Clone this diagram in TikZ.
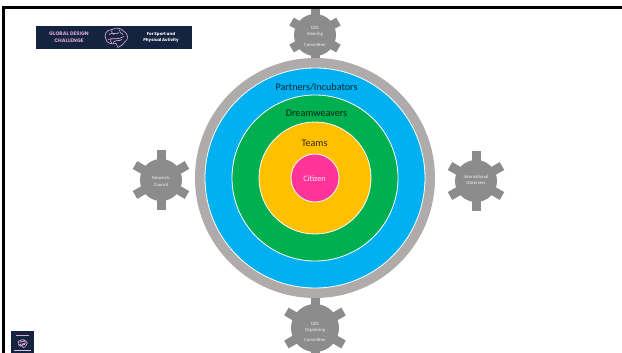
\documentclass[tikz,border=0pt]{standalone}
\usepackage{fontspec}
\setmainfont{Carlito}
\newfontfamily\logofont{Poppins}
\newcommand{\gearshape}[4]{% x y bodyradius toothradius
  \foreach \ang in {30,90,150,210,270,330}{
    \fill[gearbody,shift={(#1,#2)},rotate=\ang] (0,-4.5) rectangle (#4,4.5);
  }
  \fill[gearbody] (#1,#2) circle[radius=#3*0.75pt];
}
\newcommand{\brainshape}{%
  \draw[brainline] (-10,2) .. controls (-13,-3) and (-9,-8) .. (-4,-8) .. controls (0,-11) and (6,-9) .. (8,-6) .. controls (12,-4) and (13,2) .. (9,4) .. controls (7,8) and (3,9) .. (2,10) -- (0,6) .. controls (-4,7) and (-9,6) .. (-10,2);
  \draw[brainline] (-7,-3) .. controls (-3,-6) and (0,-2) .. (3,-5) (-8,2) .. controls (-3,0) and (2,3) .. (8,-1) (-3,5) .. controls (-1,2) and (4,4) .. (6,2) (-4,-8) .. controls (-5,-5) and (-3,-3) .. (-2,-3) (3,-8) .. controls (5,-6) and (4,-3) .. (7,-3) (-5,1) .. controls (-6,3) and (-5,5) .. (-4,6);
}
\begin{document}
\begin{tikzpicture}[x=0.75pt,y=-0.75pt,
  ring/.style={circle,draw=white,line width=0.6pt,inner sep=0pt,minimum size=#1*0.75pt},
  ringlabel/.style={font=\fontsize{7.6}{9}\selectfont,text=#1,inner sep=0pt},
  gearlabel/.style={font=\fontsize{3.5}{4.6}\selectfont,text=white!88!gray,align=center,inner sep=0pt},
  frameline/.style={line width=2pt,black},
  logobg/.style={fill=logonavy,draw=none,inner sep=0pt},
  logotext/.style={inner sep=0pt,align=center},
  brainline/.style={draw=logopink,line width=0.5pt}
]
\definecolor{ringgray}{HTML}{AFABAB}
\definecolor{gearbody}{HTML}{8C8C8C}
\definecolor{cblue}{HTML}{00B0F0}
\definecolor{cgreen}{HTML}{00B050}
\definecolor{cyellow}{HTML}{FFC000}
\definecolor{cpink}{HTML}{FF3399}
\definecolor{logonavy}{HTML}{14233F}
\definecolor{logopink}{HTML}{D9A6D0}
\useasboundingbox (0,0) rectangle (622,353);
\fill[white] (0,0) rectangle (622,353);
% gears
\gearshape{315}{35}{21}{27}
\gearshape{161}{180}{21}{30}
\gearshape{476}{181}{21}{30}
\gearshape{315}{328}{24}{33}
% frame
\coordinate (fa) at (3.5,353);
\coordinate (fb) at (3.5,7.5);
\coordinate (fc) at (622,7.5);
\draw[frameline] (fa) -- (fb) -- (fc);
% rings
\node[ring=240,fill=ringgray,draw=none] (outer) at (315,178) {};
\node[ring=220,fill=cblue] (partners) at (315,178) {};
\node[ring=166,fill=cgreen] (dream) at (315,178) {};
\node[ring=112,fill=cyellow] (teams) at (315,178) {};
\node[ring=48,fill=cpink] (citizen) at (315,178) {};
\node[ringlabel=black!80!cblue] (lp) at (316.5,87) {Partners/Incubators};
\node[ringlabel=black!80!cgreen] (ld) at (316.5,113) {Dreamweavers};
\node[ringlabel=black!80!cyellow] (lt) at (314.5,143) {Teams};
\node[font=\fontsize{6.2}{7}\selectfont,text=white!90!cpink,inner sep=0pt] (lc) at (314.5,179) {Citizen};
\node[gearlabel] (g1) at (315,36.5) {GDC\\Steering\\[3pt]Committee};
\node[gearlabel] (g2) at (161,181.5) {Research\\[1pt]Council};
\node[gearlabel] (g3) at (476,180) {International\\Observers};
\node[gearlabel] (g4) at (315,332) {GDC\\Organising\\[3pt]Committee};
% banner logo
\fill[logobg] (36,26) rectangle (192,49);
\node[logotext,font=\logofont\bfseries\fontsize{3.8}{5}\selectfont,text=logopink] (lg) at (69,37.5) {GLOBAL DESIGN\\CHALLENGE};
\node[logotext,font=\logofont\bfseries\fontsize{3.1}{5}\selectfont,text=white] (ls) at (161,37.5) {For Sport and\\Physical Activity};
\begin{scope}[shift={(116,37.5)}]
  \brainshape
\end{scope}
% small logo
\fill[logobg] (11,331) rectangle (34,353);
\begin{scope}[shift={(22.5,343.5)},scale=0.42]
  \brainshape
\end{scope}
\draw[logopink,line width=0.6pt] (16,335.5) -- (29,335.5);
\draw[logopink!70!white,line width=0.5pt] (14,350.5) -- (31,350.5);
\end{tikzpicture}
\end{document}
